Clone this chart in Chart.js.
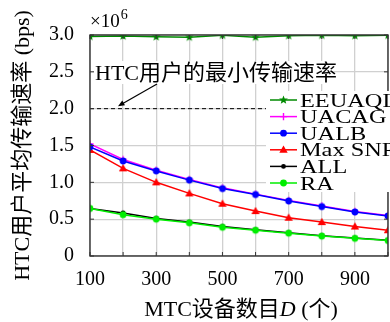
<!DOCTYPE html>
<html>
<head>
<meta charset="utf-8">
<script src="https://cdn.jsdelivr.net/npm/chart.js@4.4.0/dist/chart.umd.min.js"></script>
<style>
    body { margin: 0; overflow: hidden; background: #fff; }
</style>
</head>
<body>
<canvas id="grafico" width="400" height="322"></canvas>
<script>
// Dados (x10^6 bps)
var dispositivos = [100, 200, 300, 400, 500, 600, 700, 800, 900, 1000];
var eeuaql = [2.98, 2.985, 2.975, 2.97, 2.995, 2.97, 2.99, 2.995, 2.99, 2.995];
var uacag = [1.52, 1.31, 1.165, 1.04, 0.925, 0.84, 0.755, 0.68, 0.605, 0.55];
var ualb = [1.48, 1.29, 1.155, 1.03, 0.915, 0.834, 0.747, 0.671, 0.598, 0.543];
var maxSnr = [1.44, 1.19, 1.0, 0.85, 0.71, 0.61, 0.52, 0.46, 0.40, 0.35];
var all = [0.645, 0.585, 0.51, 0.46, 0.40, 0.355, 0.315, 0.275, 0.245, 0.215];
var ra = [0.645, 0.56, 0.50, 0.45, 0.39, 0.35, 0.31, 0.27, 0.24, 0.21];
var taxaMinima = 2.0;
var ticksX = [100, 300, 500, 700, 900];
var ticksY = [0, 0.5, 1.0, 1.5, 2.0, 2.5, 3.0];

var fonteSerif = "'Liberation Serif', 'Noto Sans CJK SC', serif";

// Desenhar os marcadores (usados no grafico e na legenda)
function desenharMarcador(g, tipo, cor, x, y) {
    g.save();
    g.fillStyle = cor;
    g.strokeStyle = cor;
    g.lineWidth = 1.4;
    g.beginPath();
    if (tipo == 'estrela') {
        for (var k = 0; k < 10; k++) {
            var r = (k % 2 == 0) ? 4.6 : 2.0;
            var a = -Math.PI / 2 + k * Math.PI / 5;
            if (k == 0) g.moveTo(x + r * Math.cos(a), y + r * Math.sin(a));
            else g.lineTo(x + r * Math.cos(a), y + r * Math.sin(a));
        }
        g.closePath();
        g.fill();
    } else if (tipo == 'cruz') {
        g.moveTo(x - 3.6, y); g.lineTo(x + 3.6, y);
        g.moveTo(x, y - 3.6); g.lineTo(x, y + 3.6);
        g.stroke();
    } else if (tipo == 'circulo') {
        g.arc(x, y, 3.4, 0, Math.PI * 2);
        g.fill();
    } else if (tipo == 'ponto') {
        g.arc(x, y, 2.4, 0, Math.PI * 2);
        g.fill();
    } else if (tipo == 'triangulo') {
        g.moveTo(x, y - 4.3);
        g.lineTo(x + 4.2, y + 3.0);
        g.lineTo(x - 4.2, y + 3.0);
        g.closePath();
        g.fill();
    }
    g.restore();
}

function criarMarcador(tipo, cor) {
    var c = document.createElement('canvas');
    c.width = 12;
    c.height = 12;
    desenharMarcador(c.getContext('2d'), tipo, cor, 6, 6);
    return c;
}

function montar(valores) {
    var pts = [];
    for (var i = 0; i < dispositivos.length; i++) {
        pts.push({ x: dispositivos[i], y: valores[i] });
    }
    return pts;
}

// Series (a primeira fica por cima)
var series = [
    { label: 'EEUAQL', data: eeuaql, cor: '#008a00', tipo: 'estrela' },
    { label: 'UALB', data: ualb, cor: '#0000ff', tipo: 'circulo' },
    { label: 'UACAG', data: uacag, cor: '#ff00ff', tipo: 'cruz' },
    { label: 'Max SNR', data: maxSnr, cor: '#ff0000', tipo: 'triangulo' },
    { label: 'RA', data: ra, cor: '#00ee00', tipo: 'circulo' },
    { label: 'ALL', data: all, cor: '#000000', tipo: 'ponto' }
];
var ordemLegenda = ['EEUAQL', 'UACAG', 'UALB', 'Max SNR', 'ALL', 'RA'];

var datasets = [];
for (var i = 0; i < series.length; i++) {
    series[i].marcador = criarMarcador(series[i].tipo, series[i].cor);
    datasets.push({
        label: series[i].label,
        data: montar(series[i].data),
        borderColor: series[i].cor,
        backgroundColor: series[i].cor,
        borderWidth: 1.5,
        pointStyle: series[i].marcador,
        pointRadius: 4,
        tension: 0
    });
}
// Linha tracejada da taxa minima
datasets.push({
    label: 'minimo',
    data: [{ x: dispositivos[0], y: taxaMinima }, { x: dispositivos[dispositivos.length - 1], y: taxaMinima }],
    borderColor: '#000',
    borderWidth: 1,
    borderDash: [4, 3],
    pointRadius: 0
});

var extras = {
    id: 'extras',
    afterDatasetsDraw: function (chart) {
        var ctx = chart.ctx;
        var area = chart.chartArea;
        var sx = chart.scales.x;
        var sy = chart.scales.y;

        ctx.save();
        // Moldura
        ctx.strokeStyle = '#333';
        ctx.lineWidth = 1.4;
        ctx.strokeRect(area.left, area.top, area.right - area.left, area.bottom - area.top);

        // Ticks para dentro
        ctx.lineWidth = 1;
        ctx.beginPath();
        for (var v = 100; v <= 1000; v += 100) {
            var px = sx.getPixelForValue(v);
            ctx.moveTo(px, area.bottom); ctx.lineTo(px, area.bottom - 4);
            ctx.moveTo(px, area.top); ctx.lineTo(px, area.top + 4);
        }
        for (var j = 0; j < ticksY.length; j++) {
            var py = sy.getPixelForValue(ticksY[j]);
            ctx.moveTo(area.left, py); ctx.lineTo(area.left + 4, py);
            ctx.moveTo(area.right, py); ctx.lineTo(area.right - 4, py);
        }
        ctx.stroke();

        ctx.fillStyle = '#000';
        // x10^6
        ctx.font = '19px ' + fonteSerif;
        ctx.textBaseline = 'alphabetic';
        ctx.textAlign = 'left';
        ctx.fillText('\u00d710', area.left, 27);
        var w = ctx.measureText('\u00d710').width;
        ctx.font = '14px ' + fonteSerif;
        ctx.fillText('6', area.left + w + 1, 19);

        // Anotacao
        ctx.fillStyle = '#fff';
        ctx.fillRect(area.left + 4, 61, 240, 23);
        ctx.fillStyle = '#000';
        ctx.font = '22px ' + fonteSerif;
        ctx.fillText('HTC用户的最小传输速率', area.left + 5, 80);

        // Seta
        var x0 = 157, y0 = 84, x1 = 118, y1 = sy.getPixelForValue(taxaMinima) - 2.5;
        var ang = Math.atan2(y1 - y0, x1 - x0);
        ctx.strokeStyle = '#000';
        ctx.lineWidth = 1.2;
        ctx.beginPath();
        ctx.moveTo(x0, y0);
        ctx.lineTo(x1 - 3 * Math.cos(ang), y1 - 3 * Math.sin(ang));
        ctx.stroke();
        ctx.beginPath();
        ctx.moveTo(x1, y1);
        ctx.lineTo(x1 - 7 * Math.cos(ang - 0.4), y1 - 7 * Math.sin(ang - 0.4));
        ctx.lineTo(x1 - 7 * Math.cos(ang + 0.4), y1 - 7 * Math.sin(ang + 0.4));
        ctx.closePath();
        ctx.fill();

        // Legenda
        ctx.fillStyle = '#fff';
        ctx.fillRect(266, 91, 140, 101);
        ctx.font = '19px ' + fonteSerif;
        for (var n = 0; n < ordemLegenda.length; n++) {
            var s = null;
            for (var m = 0; m < series.length; m++) {
                if (series[m].label == ordemLegenda[n]) s = series[m];
            }
            var yy = 100 + n * 16.6;
            ctx.strokeStyle = s.cor;
            ctx.lineWidth = 1.5;
            ctx.beginPath();
            ctx.moveTo(270, yy);
            ctx.lineTo(297, yy);
            ctx.stroke();
            desenharMarcador(ctx, s.tipo, s.cor, 283.5, yy);
            // texto um pouco esticado na horizontal, como na figura
            ctx.save();
            ctx.translate(300, yy + 6.5);
            ctx.scale(1.28, 1);
            ctx.fillStyle = '#000';
            ctx.fillText(s.label, 0, 0);
            ctx.restore();
        }
        ctx.fillStyle = '#000';

        // Titulo eixo y
        ctx.save();
        ctx.translate(23, (area.top + area.bottom) / 2);
        ctx.rotate(-Math.PI / 2);
        ctx.textAlign = 'center';
        ctx.textBaseline = 'middle';
        ctx.font = '22px ' + fonteSerif;
        ctx.fillText('HTC用户平均传输速率 (bps)', 0, 0);
        ctx.restore();

        // Titulo eixo x (D em italico)
        var p1 = 'MTC设备数目', p2 = 'D', p3 = ' (个)';
        ctx.font = '22px ' + fonteSerif;
        var w1 = ctx.measureText(p1).width, w3 = ctx.measureText(p3).width;
        ctx.font = 'italic 22px ' + fonteSerif;
        var w2 = ctx.measureText(p2).width;
        var xi = 241 - (w1 + w2 + w3) / 2;
        ctx.textAlign = 'left';
        ctx.font = '22px ' + fonteSerif;
        ctx.fillText(p1, xi, 316);
        ctx.font = 'italic 22px ' + fonteSerif;
        ctx.fillText(p2, xi + w1, 316);
        ctx.font = '22px ' + fonteSerif;
        ctx.fillText(p3, xi + w1 + w2, 316);
        ctx.restore();
    }
};

new Chart(document.getElementById('grafico'), {
    type: 'line',
    data: { datasets: datasets },
    options: {
        responsive: false,
        animation: false,
        layout: { padding: { left: 0, top: 35, right: 9, bottom: 0 } },
        plugins: { legend: { display: false }, tooltip: { enabled: false } },
        scales: {
            x: {
                type: 'linear',
                min: 100,
                max: 1000,
                afterFit: function (scale) { scale.height = 66; },
                grid: { color: '#d0d0d0', lineWidth: 1.3, drawTicks: false },
                border: { display: false },
                ticks: {
                    stepSize: 100,
                    autoSkip: false,
                    maxRotation: 0,
                    padding: 12,
                    color: '#000',
                    font: { family: fonteSerif, size: 20 },
                    callback: function (v) { return ticksX.indexOf(v) >= 0 ? String(v) : ''; }
                }
            },
            y: {
                min: 0,
                max: 3,
                afterFit: function (scale) { scale.width = 90; },
                grid: { color: '#d0d0d0', lineWidth: 1.3, drawTicks: false },
                border: { display: false },
                ticks: {
                    stepSize: 0.5,
                    padding: 16,
                    color: '#000',
                    font: { family: fonteSerif, size: 20 },
                    callback: function (v) { return v === 0 ? '0' : v.toFixed(1); }
                }
            }
        }
    },
    plugins: [extras]
});
</script>
</body>
</html>
